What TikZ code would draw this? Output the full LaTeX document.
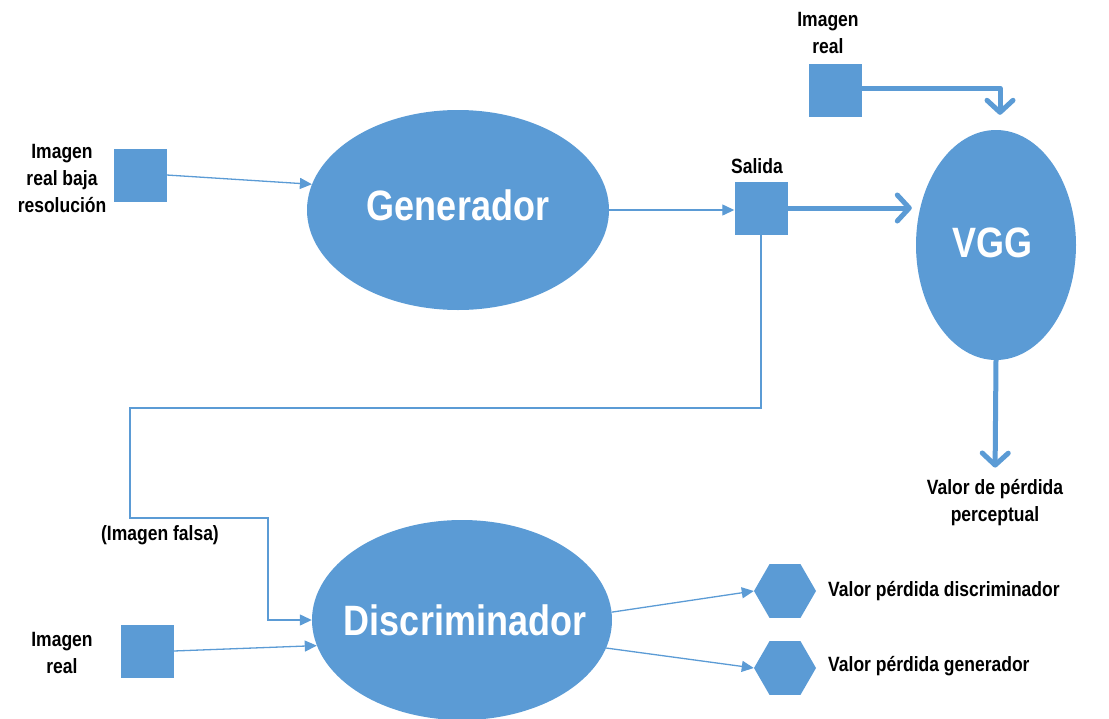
\documentclass[tikz,border=0pt]{standalone}
\usepackage{fontspec}
\setmainfont{Liberation Sans}
\usetikzlibrary{arrows.meta,shapes.geometric,calc}
\definecolor{office}{HTML}{5B9BD5}
% slightly tall lettering
\newcommand\tall[1]{\scalebox{1}[1.18]{#1}}
\begin{document}
\begin{tikzpicture}[x=1pt,y=-1pt,
  blk/.style={fill=office, draw=none, minimum size=53pt, inner sep=0pt},
  blob/.style={ellipse, fill=office, inner sep=0pt},
  bigtext/.style={inner sep=0pt, text=white, font=\fontsize{36}{40}\selectfont\bfseries},
  hexa/.style={regular polygon, regular polygon sides=6, fill=office,
               inner sep=0pt, minimum size=62pt},
  lbl/.style={align=center, font=\fontsize{17.5}{27}\selectfont\bfseries, inner sep=0pt},
  flow/.style={draw=office, line width=1.3pt, -{Triangle[length=12pt,width=11pt]}},
  fat/.style={draw=office, line width=5pt, line join=round,
              -{Straight Barb[length=12pt,width=26pt,round]}}
]
\useasboundingbox (0,0) rectangle (1109,718);

% main blocks
\node[blob, minimum width=302pt, minimum height=200pt] (gen) at (458,210) {};
\node[blob, minimum width=160pt, minimum height=230pt] (vgg) at (996,245) {};
\node[blob, minimum width=300pt, minimum height=200pt] (disc) at (462,620) {};
\node[bigtext] (gent) at (458,205) {\tall{Generador}};
\node[bigtext] (vggt) at (992,243) {\tall{VGG}};
\node[bigtext] (disct) at (465,620) {\tall{Discriminador}};

% images
\node[blk] (low) at (140,175) {};
\node[blk] (sal) at (761,208) {};
\node[blk] (top) at (835,90) {};
\node[blk] (bot) at (147,651) {};

% losses
\node[hexa] (hd) at (785,591) {};
\node[hexa] (hg) at (785,668) {};

% labels
\node[lbl] (lowl) at (62,178) {\tall{Imagen}\\\tall{real baja}\\\tall{resolución}};
\node[lbl] (topl) at (828,33) {\tall{Imagen}\\\tall{real}};
\node[lbl] (botl) at (62,653) {\tall{Imagen}\\\tall{real}};
\node[lbl] (sall) at (757,166) {\tall{Salida}};
\node[lbl] (fake) at (160,535) {\tall{(Imagen falsa)}};
\node[lbl] (perc) at (995,503) {\tall{Valor de pérdida}\\\tall{perceptual}};
\node[lbl, anchor=west] (hdl) at (828,591) {\tall{Valor pérdida discriminador}};
\node[lbl, anchor=west] (hgl) at (828,666) {\tall{Valor pérdida generador}};

% connectors
\coordinate (f1) at (130,408);
\coordinate (f2) at (268,518);
\draw[flow] (low.east) -- (gen.170);
\draw[flow] (gen.east) -- (sal.west |- gen.east);
\draw[flow] (sal.south) |- (f1) |- (f2) |- (disc.west);
\draw[flow] (bot.east) -- (disc.190);
\draw[flow] (disc.3) -- (hd.west);
\draw[flow] (disc.-11) -- (hg.west);

\draw[fat, shorten >=4pt] (sal.east) -- (sal.east -| vgg.west);
\coordinate (vin) at ($(vgg.north)+(4,-15)$);
\draw[fat] ($(top.east)+(0,-2)$) -| (vin);
\draw[fat, shorten >=12pt] (vgg.south) -- (perc.north);
\end{tikzpicture}
\end{document}
